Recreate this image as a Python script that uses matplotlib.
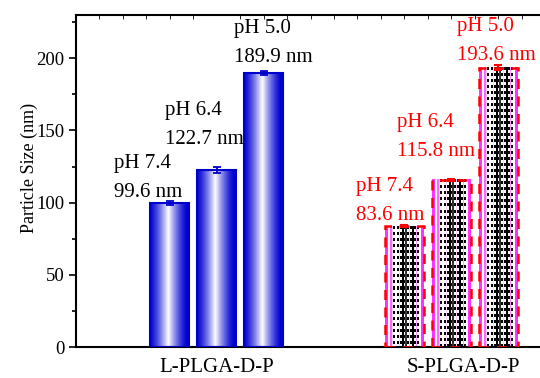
import numpy as np
import matplotlib.pyplot as plt
from matplotlib.colors import to_rgb

plt.rcParams['font.family'] = ['Liberation Serif', 'DejaVu Serif']

groups = ['L-PLGA-D-P', 'S-PLGA-D-P']
ph = ['pH 7.4', 'pH 6.4', 'pH 5.0']
l_size = [99.6, 122.7, 189.9]
l_err = [1.2, 2.0, 1.5]
s_size = [83.6, 115.8, 193.6]
s_err = [0.6, 0.8, 1.5]

l_x = [1, 2, 3]
s_x = [6, 7, 8]
group_x = [2, 7.25]
# label anchors (left x, centre y of the two lines) in data units
l_lab_x = [-0.19, 0.89, 2.36]
l_lab_y = [117.3, 153.6, 210.7]
s_lab_x = [4.98, 5.85, 7.13]
s_lab_y = [101, 145.3, 211.8]

width = 0.83

fig = plt.figure(figsize=(5.4, 3.78), dpi=100)
ax = fig.add_axes([76/540, 31/378, 469/540, 332/378])
ax.set_xlim(-1, 9)
ax.set_ylim(0, 230)

# blue gradient bars
n = 64
t = np.linspace(0, 1, n)
w = np.clip(1 - np.abs(t - 0.47) / 0.5, 0, 1) ** 1.4
blue = np.array([0.0, 0.0, 0.82])
grad = blue[None, :] * (1 - w[:, None]) + np.ones(3)[None, :] * w[:, None]
grad_img = grad[None, :, :]

# striped pink / black dotted pattern
cols = ['#ff33ff', '#ff33ff', '#ffffff', '#ff66ff', '#ffccff', 'dot', '#ffffff',
        'dot', '#ffd6ff', 'dot', '#000000', 'dot', '#333333', 'dot', '#ffccff',
        'dot', '#000000', 'dot', '#ff99ff', 'dot', '#ffffff', '#ff33ff', '#ff33ff']
rows = 60
pat = np.ones((rows, len(cols), 3))
for j, c in enumerate(cols):
    for i in range(rows):
        if c == 'dot':
            pat[i, j] = (0, 0, 0) if i % 2 == 0 else (1, 1, 1)
        else:
            pat[i, j] = to_rgb(c)

for x, h in zip(l_x, l_size):
    ax.imshow(grad_img, extent=[x - width/2, x + width/2, 0, h],
              aspect='auto', zorder=2, interpolation='bilinear')
    ax.add_patch(plt.Rectangle((x - width/2, 0), width, h, fill=False,
                               ec='#0000cc', lw=1.5, zorder=3))
for x, h in zip(s_x, s_size):
    r = max(int(h * 1.445 / 3), 2)
    ax.imshow(pat[np.arange(r) % rows], extent=[x - width/2, x + width/2, 0, h],
              aspect='auto', zorder=2, interpolation='nearest')
    ax.add_patch(plt.Rectangle((x - width/2, 0), width, h, fill=False,
                               ec='red', lw=1.8, ls=(0, (4, 3)), zorder=3))

ax.errorbar(l_x, l_size, yerr=l_err, fmt='none', ecolor='#0000cc',
            elinewidth=1.3, capsize=3, capthick=1.3, zorder=4)
ax.errorbar(s_x, s_size, yerr=s_err, fmt='none', ecolor='red',
            elinewidth=1.5, capsize=3, capthick=1.5, zorder=4)

for lx, ly, p, v in zip(l_lab_x, l_lab_y, ph, l_size):
    ax.text(lx, ly, '{}\n{:.1f} nm'.format(p, v), ha='left', va='center',
            fontsize=15, linespacing=1.72, color='black', zorder=5)
for lx, ly, p, v in zip(s_lab_x, s_lab_y, ph, s_size):
    ax.text(lx, ly, '{}\n{:.1f} nm'.format(p, v), ha='left', va='center',
            fontsize=15, linespacing=1.72, color='red', zorder=5)

ax.set_xticks(group_x)
ax.set_xticklabels(groups, fontsize=15)
ax.tick_params(axis='x', length=0, pad=8)
ax.set_xticks(np.arange(-0.5, 9, 0.5), minor=True)
ax.tick_params(axis='x', which='minor', bottom=False, top=True,
               direction='in', length=3)

ax.set_yticks([0, 50, 100, 150, 200])
ax.set_yticks([25, 75, 125, 175, 225], minor=True)
ax.tick_params(axis='y', which='major', direction='out', length=5,
               labelsize=13.5, width=1.2)
ax.tick_params(axis='y', which='minor', direction='out', length=3, width=1.2)
ax.set_ylabel('Particle Size (nm)', fontsize=13)
ax.yaxis.set_label_coords(-0.082, 0.54)
for s in ax.spines.values():
    s.set_linewidth(1.5)

plt.savefig('out.png', dpi=100)
